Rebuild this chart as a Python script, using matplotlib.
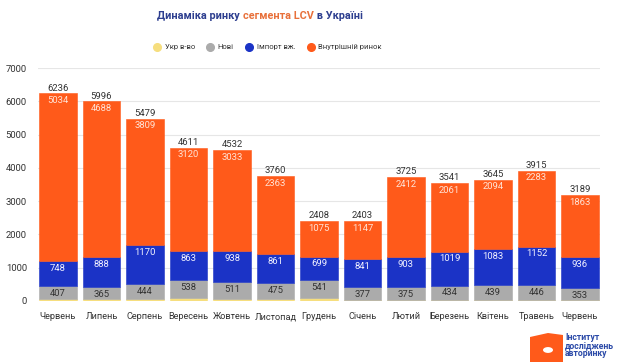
import matplotlib
matplotlib.use("Agg")
import matplotlib.pyplot as plt
from matplotlib.patches import Polygon, Circle
import numpy as np

plt.rcParams['font.family'] = ['Roboto', 'DejaVu Sans']

months = ["Червень", "Липень", "Серпень", "Вересень", "Жовтень", "Листопад", "Грудень",
          "Січень", "Лютий", "Березень", "Квітень", "Травень", "Червень"]
totals = [6236, 5996, 5479, 4611, 4532, 3760, 2408, 2403, 3725, 3541, 3645, 3915, 3189]
ukr = [47, 55, 56, 90, 50, 61, 93, 38, 35, 27, 29, 34, 37]
new = [407, 365, 444, 538, 511, 475, 541, 377, 375, 434, 439, 446, 353]
imported = [748, 888, 1170, 863, 938, 861, 699, 841, 903, 1019, 1083, 1152, 936]
domestic = [5034, 4688, 3809, 3120, 3033, 2363, 1075, 1147, 2412, 2061, 2094, 2283, 1863]
series_names = ["Укр в-во", "Нові", "Імпорт вж.", "Внутрішній ринок"]
yticks = [0, 1000, 2000, 3000, 4000, 5000, 6000, 7000]

colors = ["#F6DE7E", "#ABABAB", "#1B33C6", "#FF5A1A"]
label_colors = [None, "#333333", "#F2F2FF", "#FFE3D6"]

W, H = 620, 364
fig = plt.figure(figsize=(W / 100, H / 100), dpi=100)
ax = fig.add_axes([38 / W, (H - 301) / H, (600 - 38) / W, (301 - 68) / H])

x = np.arange(len(months))
width = 0.86
data = [ukr, new, imported, domestic]
bottom = np.zeros(len(months))
for i, (vals, c) in enumerate(zip(data, colors)):
    vals = np.array(vals, dtype=float)
    ax.bar(x, vals, width, bottom=bottom, color=c, edgecolor=c, linewidth=0.4,
           joinstyle='round', label=series_names[i], zorder=2)
    if label_colors[i] is not None:
        for xi, v, b in zip(x, vals, bottom):
            ax.annotate(f"{int(v)}", (xi, b + v), xytext=(0, -5.2), textcoords="offset points",
                        ha="center", va="center", fontsize=6.8, color=label_colors[i], zorder=3)
    bottom += vals

for xi, t in zip(x, totals):
    ax.annotate(f"{t}", (xi, t), xytext=(0, 3.8), textcoords="offset points",
                ha="center", va="center", fontsize=6.8, color="#333333", zorder=3)

ax.set_xlim(-0.46, len(months) - 1 + 0.46)
ax.set_ylim(0, 7000)
ax.set_yticks(yticks)
ax.set_yticklabels([str(v) for v in yticks], fontsize=6.8, color="#333333")
ax.set_xticks(x)
ax.set_xticklabels(months, fontsize=6.6, color="#333333")
ax.tick_params(axis='both', length=0)
ax.tick_params(axis='x', pad=8)
ax.tick_params(axis='y', pad=8)
ax.grid(axis='y', color="#E6E6E6", linewidth=0.8, zorder=0)
for s in ax.spines.values():
    s.set_visible(False)

# legend
handles = [plt.Line2D([], [], marker='o', linestyle='', markersize=5.5,
                      markerfacecolor=c, markeredgecolor=c) for c in colors]
fig.legend(handles, series_names, loc='center', bbox_to_anchor=(267 / W, (H - 47) / H),
           ncol=4, frameon=False, fontsize=5.5, handletextpad=0.3, columnspacing=1.4,
           handlelength=1.3, labelcolor="#333333")

# title in three colored pieces
title_parts = [("Динаміка ринку ", "#2D3E8F"), ("сегмента LCV", "#E8703A"), (" в Україні", "#2D3E8F")]
fig.canvas.draw()
renderer = fig.canvas.get_renderer()
texts = []
for s, c in title_parts:
    t = fig.text(0, (H - 16) / H, s, fontsize=7.8, fontweight='bold', color=c,
                 ha='left', va='center')
    texts.append(t)
widths = [t.get_window_extent(renderer).width for t in texts]
total_w = sum(widths)
start = 260 - total_w / 2
for t, w in zip(texts, widths):
    t.set_x(start / W)
    start += w

# logo
logo = Polygon([[530 / W, (H - 362) / H], [530 / W, (H - 337) / H], [548 / W, (H - 333) / H],
                [563 / W, (H - 335) / H], [563 / W, (H - 362) / H]],
               closed=True, transform=fig.transFigure, facecolor="#FF5A1A", edgecolor='none')
fig.patches.append(logo)
circ = Circle((548 / W, (H - 350) / H), 5 / W, transform=fig.transFigure,
              facecolor="white", edgecolor='none')
fig.patches.append(circ)
for i, line in enumerate(["Інститут", "досліджень", "авторинку"]):
    fig.text(565 / W, (H - (337 + 8.5 * i)) / H, line, fontsize=6.2, fontweight='bold',
             color="#2B4AA8", ha='left', va='center')

fig.savefig("out.png", dpi=100, facecolor="white")
